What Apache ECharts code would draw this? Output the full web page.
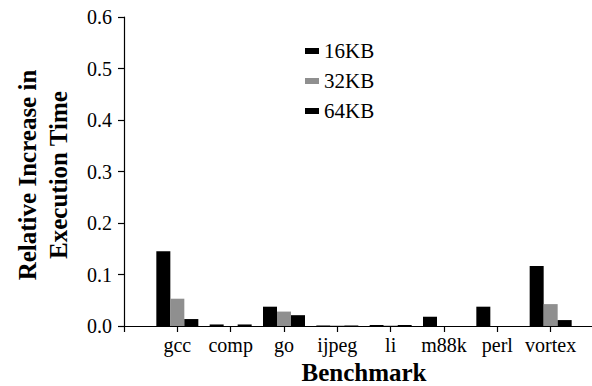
<!DOCTYPE html>
<html>
<head>
<meta charset="utf-8">
<script src="https://cdn.jsdelivr.net/npm/echarts@6/dist/echarts.min.js"></script>
<style>html,body{margin:0;padding:0;background:#fff}#c{width:592px;height:386px}</style>
</head>
<body>
<div id="c"></div>
<script>
// Leading/trailing blanks pad the axis like the original figure
var categories = ['', 'gcc', 'comp', 'go', 'ijpeg', 'li', 'm88k', 'perl', 'vortex', ''];
var kb16 = [null, 0.145, 0.003, 0.0375, 0.001, 0.002, 0.018, 0.0375, 0.1165, null];
var kb32 = [null, 0.053, 0.000, 0.028, 0.001, 0.001, 0.000, 0.000, 0.0425, null];
var kb64 = [null, 0.0135, 0.003, 0.021, 0.001, 0.002, 0.000, 0.000, 0.0115, null];
var seriesNames = ['16KB', '32KB', '64KB'];
var yTicks = [0, 0.1, 0.2, 0.3, 0.4, 0.5, 0.6];

var font = '"Liberation Serif", "DejaVu Serif", serif';
var chart = echarts.init(document.getElementById('c'), null, {renderer: 'svg'});
chart.setOption({
  animation: false,
  backgroundColor: '#fff',
  textStyle: {fontFamily: font, color: '#000'},
  grid: {left: 124, top: 17, height: 309, width: 480, containLabel: false, outerBoundsMode: 'none'},
  legend: {
    orient: 'vertical', left: 300, top: 35,
    itemWidth: 14, itemHeight: 6, itemGap: 8,
    icon: 'rect',
    textStyle: {fontFamily: font, fontSize: 21, color: '#000', lineHeight: 22},
    data: seriesNames
  },
  xAxis: {
    type: 'category', data: categories, boundaryGap: false,
    name: 'Benchmark', nameLocation: 'middle', nameGap: 26,
    nameTextStyle: {fontFamily: font, fontSize: 25, fontWeight: 'bold', color: '#000', lineHeight: 26},
    axisLine: {lineStyle: {color: '#000', width: 1.2}},
    axisTick: {show: true, length: 6, lineStyle: {color: '#000', width: 1.2}},
    axisLabel: {fontFamily: font, fontSize: 20, color: '#000', margin: 9, interval: 0},
    splitLine: {show: false}
  },
  yAxis: {
    type: 'value', min: yTicks[0], max: yTicks[yTicks.length - 1], interval: 0.1,
    axisLine: {show: true, lineStyle: {color: '#000', width: 1.2}},
    axisTick: {show: true, length: 6, lineStyle: {color: '#000', width: 1.2}},
    axisLabel: {fontFamily: font, fontSize: 20, color: '#000', margin: 12,
      formatter: function (v) { return v.toFixed(1); }},
    splitLine: {show: false}
  },
  graphic: [{
    type: 'text', x: 43, y: 175, rotation: Math.PI / 2,
    style: {
      text: 'Relative Increase in\nExecution Time',
      fontFamily: font, fontSize: 25, fontWeight: 'bold', fill: '#000',
      align: 'center', verticalAlign: 'middle', lineHeight: 31
    }
  }],
  series: [
    {name: seriesNames[0], type: 'bar', data: kb16, barWidth: 14, barGap: '0%', itemStyle: {color: '#000'}},
    {name: seriesNames[1], type: 'bar', data: kb32, barWidth: 14, barGap: '0%', itemStyle: {color: '#8f8f8f'}},
    {name: seriesNames[2], type: 'bar', data: kb64, barWidth: 14, barGap: '0%', itemStyle: {color: '#000'}}
  ]
});
</script>
</body>
</html>
